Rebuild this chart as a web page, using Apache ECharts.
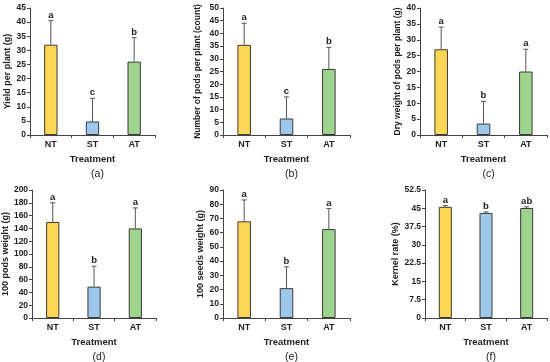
<!DOCTYPE html>
<html><head><meta charset="utf-8">
<script src="https://cdn.jsdelivr.net/npm/echarts@6/dist/echarts.min.js"></script>
<style>html,body{margin:0;padding:0;background:#fff}#c{width:550px;height:362px}</style>
</head><body><div id="c"></div>
<script>
var categories = ['NT', 'ST', 'AT'];
var yieldMean = [32, 4.8, 26];
var yieldErr = [8.5, 8.2, 8.5];
var yieldLetters = ['a', 'c', 'b'];
var podsMean = [35.5, 6.5, 26];
var podsErr = [8.5, 8.5, 8.5];
var podsLetters = ['a', 'c', 'b'];
var dryMean = [27, 3.6, 20];
var dryErr = [7, 7, 7];
var dryLetters = ['a', 'b', 'a'];
var pods100Mean = [150, 49, 140];
var pods100Err = [30, 32, 32];
var pods100Letters = ['a', 'b', 'a'];
var seeds100Mean = [68, 21, 62.5];
var seeds100Err = [15, 15, 14.5];
var seeds100Letters = ['a', 'b', 'a'];
var kernelMean = [45.6, 43.1, 45.1];
var kernelErr = [0.5, 0.4, 0.5];
var kernelLetters = ['a', 'b', 'ab'];

var yTitles = ['Yield per plant (g)', 'Number of pods per plant (count)', 'Dry weight of pods per plant (g)',
  '100 pods weight (g)', '100 seeds weight (g)', 'Kernel rate (%)'];
var captions = ['(a)', '(b)', '(c)', '(d)', '(e)', '(f)'];
var yMax = [45, 50, 40, 200, 90, 52.5];
var yStep = [5, 5, 5, 20, 10, 7.5];

var panels = [
  [yieldMean, yieldErr, yieldLetters],
  [podsMean, podsErr, podsLetters],
  [dryMean, dryErr, dryLetters],
  [pods100Mean, pods100Err, pods100Letters],
  [seeds100Mean, seeds100Err, seeds100Letters],
  [kernelMean, kernelErr, kernelLetters]
];
var colors = ['#FFD757', '#9DC8EC', '#9FD48E'];

var grids = [
  {left: 30, top: 8, width: 125, height: 127},
  {left: 223, top: 8, width: 127, height: 127},
  {left: 420, top: 8, width: 127, height: 127},
  {left: 32, top: 190, width: 124, height: 128},
  {left: 223, top: 190, width: 127, height: 128},
  {left: 425, top: 190, width: 122, height: 128}
];
var nameGaps = [18, 21, 18, 21, 18, 25];
var nameSizes = [9, 8.5, 8.5, 9, 9, 9];

var font = 'Liberation Sans, Arial, sans-serif';
var option = {
  animation: false,
  backgroundColor: '#fff',
  grid: grids.map(function (g) { return Object.assign({containLabel: false}, g); }),
  xAxis: [], yAxis: [], series: [], title: []
};
grids.forEach(function (g, i) {
  option.xAxis.push({
    type: 'category', gridIndex: i, data: categories,
    name: 'Treatment', nameLocation: 'middle', nameGap: 19,
    nameTextStyle: {fontFamily: font, fontWeight: 'bold', fontSize: 9.5, color: '#222'},
    axisLine: {lineStyle: {color: '#444', width: 1}},
    axisTick: {show: true, length: 3, lineStyle: {color: '#444'}},
    axisLabel: {fontFamily: font, fontWeight: 'bold', fontSize: 9, color: '#222', margin: 5}
  });
  option.yAxis.push({
    type: 'value', gridIndex: i, min: 0, max: yMax[i], interval: yStep[i],
    name: yTitles[i], nameLocation: 'middle', nameGap: nameGaps[i],
    nameTextStyle: {fontFamily: font, fontWeight: 'bold', fontSize: nameSizes[i], color: '#222'},
    axisLine: {show: true, lineStyle: {color: '#444', width: 1}},
    axisTick: {show: true, length: 3, lineStyle: {color: '#444'}},
    splitLine: {show: false},
    axisLabel: {fontFamily: font, fontWeight: 'bold', fontSize: 8.5, color: '#222', margin: 4}
  });
  var p = panels[i];
  option.series.push({
    type: 'bar', xAxisIndex: i, yAxisIndex: i, barWidth: '32%',
    data: p[0].map(function (v, k) {
      return {value: v, itemStyle: {color: colors[k], borderColor: '#3a3a3a', borderWidth: 1}};
    })
  });
  option.series.push({
    type: 'custom', xAxisIndex: i, yAxisIndex: i, z: 5,
    data: p[0].map(function (v, k) { return [k, v, v + p[1][k], p[2][k]]; }),
    renderItem: function (params, api) {
      var base = api.coord([api.value(0), api.value(1)]);
      var top = api.coord([api.value(0), api.value(2)]);
      var letter = p[2][params.dataIndex];
      return {
        type: 'group', children: [
          {type: 'line', shape: {x1: base[0], y1: base[1], x2: top[0], y2: top[1]}, style: {stroke: '#555', lineWidth: 1}},
          {type: 'line', shape: {x1: top[0] - 2.5, y1: top[1], x2: top[0] + 2.5, y2: top[1]}, style: {stroke: '#555', lineWidth: 1}},
          {type: 'text', x: top[0], y: top[1] - 0.5, style: {text: letter, textAlign: 'center', textVerticalAlign: 'bottom', font: 'bold 9.5px ' + font, fill: '#222'}}
        ]
      };
    }
  });
  option.title.push({
    text: captions[i], left: g.left + g.width / 2, top: g.top + g.height + 29, textAlign: 'center',
    textStyle: {fontFamily: font, fontWeight: 'normal', fontSize: 10.5, color: '#222'}
  });
});
var chart = echarts.init(document.getElementById('c'), null, {renderer: 'canvas'});
chart.setOption(option);
</script></body></html>
